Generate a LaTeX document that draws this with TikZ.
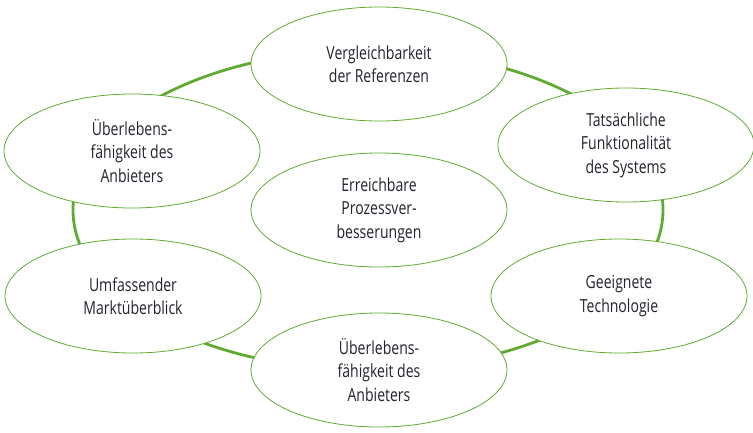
\documentclass[tikz,border=0pt]{standalone}
\usepackage{fontspec}
\setmainfont{Open Sans}[FakeStretch=0.78]
\usetikzlibrary{shapes.geometric}
\begin{document}
\begin{tikzpicture}[x=1pt,y=-1pt]
\definecolor{ring}{RGB}{96,170,50}
\definecolor{txt}{RGB}{35,35,45}
\tikzset{el/.style={draw=ring, line width=0.8pt, fill=white, ellipse, minimum width=256pt, minimum height=114pt, align=center, text=txt, font=\fontsize{18}{23.5}\selectfont, inner sep=0pt}}
\useasboundingbox (0,0) rectangle (753,432);
\draw[ring, line width=2.8pt] (368,210) ellipse [x radius=295, y radius=160];
\node[el] (top) at (379,64) {Vergleichbarkeit\\der Referenzen};
\node[el] (tr) at (626,145) {Tatsächliche\\Funktionalität\\des Systems};
\node[el] (lu) at (132,151) {Überlebens-\\fähigkeit des\\Anbieters};
\node[el] (c) at (379,210) {Erreichbare\\Prozessver-\\besserungen};
\node[el] (ll) at (133,296) {Umfassender\\Marktüberblick};
\node[el] (rl) at (619,296) {Geeignete\\Technologie};
\node[el] (b) at (379,370) {Überlebens-\\fähigkeit des\\Anbieters};
\end{tikzpicture}
\end{document}
